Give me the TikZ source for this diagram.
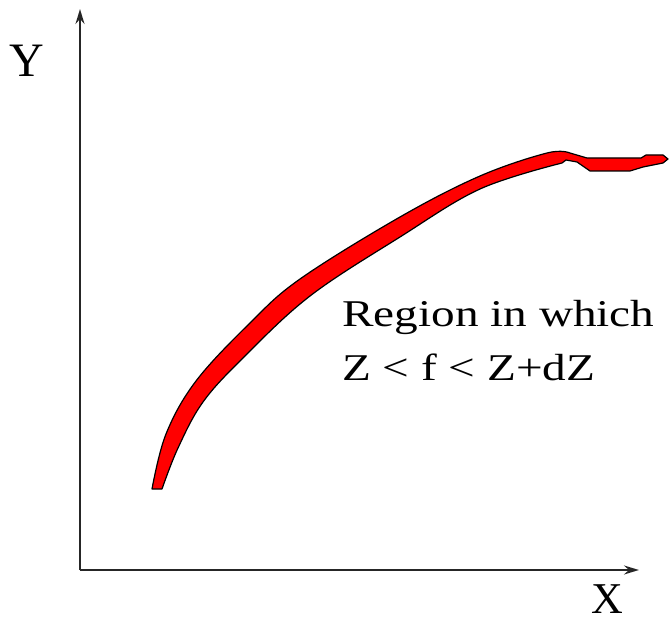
\documentclass[tikz,border=0pt]{standalone}
\usepackage{fontspec}
\setmainfont{Liberation Serif}
\newfontfamily\regfont[FakeStretch=1.25]{Liberation Serif}
\usetikzlibrary{arrows.meta}
\begin{document}
\begin{tikzpicture}[x=1pt,y=-1pt,
  axis/.style={line width=2pt,draw=black!85,-{Stealth[length=15pt,width=9pt,inset=5pt]}},
  axlabel/.style={anchor=base west,inner sep=0pt,font=\fontsize{48}{48}\selectfont},
  region/.style={anchor=base west,inner sep=0pt,font=\regfont\fontsize{37.8}{40}\selectfont},
  band/.style={fill=red,draw=black,line width=1.2pt,line join=round}]
\useasboundingbox (0,0) rectangle (670,620);
\coordinate (O) at (80,570);
\coordinate (ytip) at (80,9);
\coordinate (xtip) at (639,570);
\draw[axis] (O) -- (ytip);
\draw[axis] (O) -- (xtip);
\node[axlabel] (ylab) at (9,77) {Y};
\node[axlabel,font=\fontsize{44}{44}\selectfont] (xlab) at (591,613) {X};
\node[region] (r1) at (342,327) {Region in which};
\node[region] (r2) at (342,381) {Z < f < Z+dZ};
\filldraw[band]
  plot[smooth,tension=0.6] coordinates {(152,489) (166,434) (196,381) (250,323) (300,279) (400,217) (480,176) (547,153) (570,153)}
  -- (587,158) -- (641,158) -- (646,155) -- (663,155) -- (668,159)
  -- (663,163) -- (643,167) -- (630,171) -- (590,171) -- (577,162) -- (566,160) -- (562,163)
  -- plot[smooth,tension=0.6] coordinates {(562,163) (480,189) (400,237) (310,296) (243,358) (203,402) (178,448) (162,489)}
  -- cycle;
\end{tikzpicture}
\end{document}
